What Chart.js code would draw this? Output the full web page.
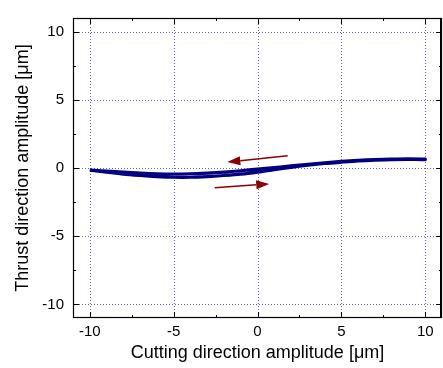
<!DOCTYPE html>
<html>
<head>
<meta charset="utf-8">
<script src="https://cdn.jsdelivr.net/npm/chart.js@4/dist/chart.umd.min.js"></script>
<style>
  html, body { margin: 0; padding: 0; background: #fff; }
  #wrap { width: 443px; height: 368px; }
</style>
</head>
<body>
<div id="wrap"><canvas id="chart"></canvas></div>
<script>
// ---- data ----
// lower branch, travelled left -> right
const lowerX = [-10, -9, -8, -7, -6, -5, -4, -3, -2, -1, 0, 1, 2, 3, 4, 5, 6, 7, 8, 9, 10];
const lowerY = [-0.15, -0.3, -0.45, -0.55, -0.63, -0.68, -0.68, -0.63, -0.55, -0.45, -0.3, -0.12, 0.05, 0.2, 0.33, 0.43, 0.52, 0.58, 0.62, 0.63, 0.62];
// upper branch, travelled right -> left
const upperX = [10, 9, 8, 7, 6, 5, 4, 3, 2, 1, 0, -1, -2, -3, -4, -5, -6, -7, -8, -9, -10];
const upperY = [0.66, 0.68, 0.66, 0.62, 0.56, 0.48, 0.38, 0.27, 0.15, 0.03, -0.08, -0.2, -0.3, -0.37, -0.42, -0.44, -0.42, -0.37, -0.3, -0.22, -0.15];

// direction arrows [x0, y0, x1, y1] in data units
const arrowBack = [1.8, 0.89, -1.8, 0.44];
const arrowFwd = [-2.55, -1.45, 0.7, -1.17];

const xTicks = [-10, -7.5, -5, -2.5, 0, 2.5, 5, 7.5, 10];
const yTicks = [-10, -7.5, -5, -2.5, 0, 2.5, 5, 7.5, 10];
const xTitle = "Cutting direction amplitude [\u03bcm]";
const yTitle = "Thrust direction amplitude [\u03bcm]";

const FONT = "'Liberation Sans', Arial, sans-serif";

const loop = lowerX.map((x, i) => ({ x, y: lowerY[i] }))
  .concat(upperX.map((x, i) => ({ x, y: upperY[i] })));

const isMajor = (v) => Math.abs(v % 5) < 1e-9;

// grid, frame and inward ticks drawn by hand
const frame = {
  id: "frame",
  beforeDatasetsDraw(chart) {
    const { ctx, chartArea: a, scales: { x, y } } = chart;
    ctx.save();
    ctx.strokeStyle = "#6060ff";
    ctx.lineWidth = 1;
    ctx.setLineDash([1, 2]);
    xTicks.filter(isMajor).forEach((v) => {
      const px = Math.round(x.getPixelForValue(v)) + 0.5;
      ctx.beginPath(); ctx.moveTo(px, a.top); ctx.lineTo(px, a.bottom); ctx.stroke();
    });
    yTicks.filter(isMajor).forEach((v) => {
      const py = Math.round(y.getPixelForValue(v)) + 0.5;
      ctx.beginPath(); ctx.moveTo(a.left, py); ctx.lineTo(a.right, py); ctx.stroke();
    });
    ctx.restore();
  },
  afterDatasetsDraw(chart) {
    const { ctx, scales: { x, y } } = chart;
    ctx.save();
    ctx.strokeStyle = "#8b0000";
    ctx.fillStyle = "#8b0000";
    ctx.lineWidth = 1.5;
    [arrowBack, arrowFwd].forEach((ar) => {
      const x0 = x.getPixelForValue(ar[0]), y0 = y.getPixelForValue(ar[1]);
      const x1 = x.getPixelForValue(ar[2]), y1 = y.getPixelForValue(ar[3]);
      const ang = Math.atan2(y1 - y0, x1 - x0);
      const len = 13, half = 4.5;
      const bx = x1 - len * Math.cos(ang), by = y1 - len * Math.sin(ang);
      ctx.beginPath(); ctx.moveTo(x0, y0); ctx.lineTo(bx, by); ctx.stroke();
      ctx.beginPath();
      ctx.moveTo(x1, y1);
      ctx.lineTo(bx + half * Math.sin(ang), by - half * Math.cos(ang));
      ctx.lineTo(bx - half * Math.sin(ang), by + half * Math.cos(ang));
      ctx.closePath();
      ctx.fill();
    });
    ctx.restore();
  },
  afterDraw(chart) {
    const { ctx, chartArea: a, scales: { x, y } } = chart;
    ctx.save();
    ctx.strokeStyle = "#000";
    ctx.lineWidth = 1.2;
    ctx.strokeRect(a.left + 0.5, a.top + 0.5, a.right - a.left - 1, a.bottom - a.top - 1);
    // right edge is heavier in the original
    ctx.lineWidth = 2;
    ctx.beginPath(); ctx.moveTo(a.right - 1, a.top); ctx.lineTo(a.right - 1, a.bottom); ctx.stroke();
    ctx.lineWidth = 1;
    xTicks.forEach((v) => {
      const px = Math.round(x.getPixelForValue(v)) + 0.5;
      const l = isMajor(v) ? 6 : 3;
      ctx.beginPath();
      ctx.moveTo(px, a.bottom); ctx.lineTo(px, a.bottom - l);
      ctx.moveTo(px, a.top); ctx.lineTo(px, a.top + l);
      ctx.stroke();
    });
    yTicks.forEach((v) => {
      const py = Math.round(y.getPixelForValue(v)) + 0.5;
      const l = isMajor(v) ? 6 : 3;
      ctx.beginPath();
      ctx.moveTo(a.left, py); ctx.lineTo(a.left + l, py);
      ctx.moveTo(a.right, py); ctx.lineTo(a.right - l, py);
      ctx.stroke();
    });
    ctx.restore();
  },
};

new Chart(document.getElementById("chart"), {
  type: "scatter",
  data: {
    datasets: [{
      data: loop,
      showLine: true,
      borderColor: "#000080",
      borderWidth: 3.2,
      pointRadius: 0,
      tension: 0.3,
      fill: false,
    }],
  },
  options: {
    responsive: true,
    maintainAspectRatio: false,
    animation: false,
    events: [],
    layout: { padding: { left: 0, top: 5, right: 1, bottom: 0 } },
    plugins: { legend: { display: false }, tooltip: { enabled: false } },
    scales: {
      x: {
        type: "linear",
        min: -11,
        max: 11,
        afterBuildTicks: (s) => { s.ticks = xTicks.map((v) => ({ value: v })); },
        afterFit: (s) => { s.height = 50; },
        grid: { display: false, drawTicks: false },
        border: { display: false },
        ticks: {
          autoSkip: false,
          maxRotation: 0,
          padding: 5,
          color: "#000",
          font: { family: FONT, size: 15 },
          callback: (v) => (isMajor(v) ? String(v) : ""),
        },
        title: {
          display: true,
          text: xTitle,
          color: "#000",
          font: { family: FONT, size: 18 },
          padding: { top: 0, bottom: 4 },
        },
      },
      y: {
        type: "linear",
        min: -11,
        max: 11,
        afterBuildTicks: (s) => { s.ticks = yTicks.map((v) => ({ value: v })); },
        afterFit: (s) => { s.width = 73; },
        grid: { display: false, drawTicks: false },
        border: { display: false },
        ticks: {
          autoSkip: false,
          padding: 9,
          color: "#000",
          font: { family: FONT, size: 15 },
          callback: (v) => (isMajor(v) ? String(v) : ""),
        },
        title: {
          display: true,
          text: yTitle,
          color: "#000",
          font: { family: FONT, size: 18 },
          padding: { top: 12, bottom: 0 },
        },
      },
    },
  },
  plugins: [frame],
});
</script>
</body>
</html>
